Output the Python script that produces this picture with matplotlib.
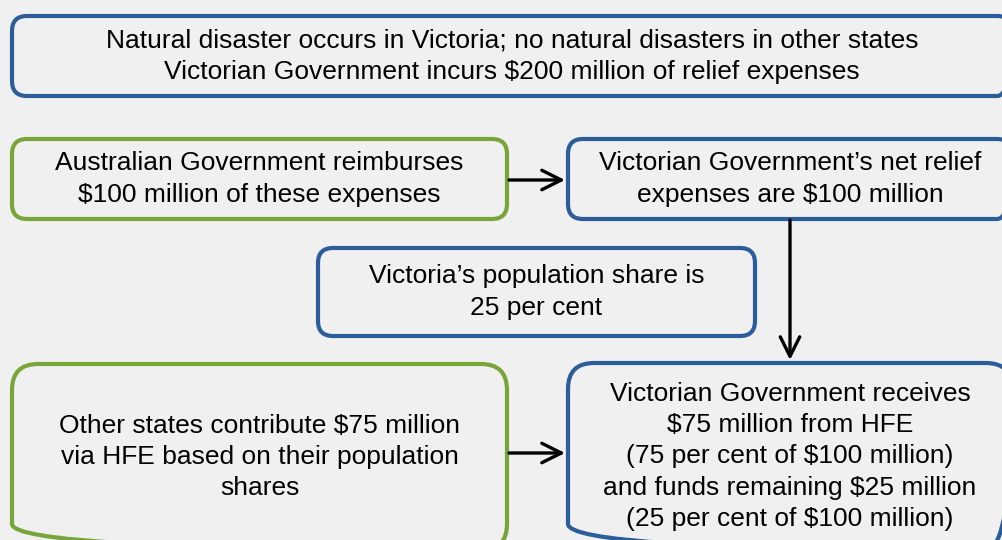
import matplotlib
matplotlib.use('Agg')
import matplotlib.pyplot as plt
from matplotlib.patches import FancyBboxPatch

BLUE = '#2C5D9B'
GREEN = '#78A53A'
BG = '#F0F0F0'

# box texts
top_text = ['Natural disaster occurs in Victoria; no natural disasters in other states',
            'Victorian Government incurs $200 million of relief expenses']
reimburse_text = ['Australian Government reimburses', '$100 million of these expenses']
net_text = ['Victorian Government\u2019s net relief', 'expenses are $100 million']
share_text = ['Victoria\u2019s population share is', '25 per cent']
others_text = ['Other states contribute $75 million',
               'via HFE based on their population', 'shares']
receive_text = ['Victorian Government receives', '$75 million from HFE',
                '(75 per cent of $100 million)', 'and funds remaining $25 million',
                '(25 per cent of $100 million)']

plt.rcParams['font.family'] = ['Liberation Sans', 'DejaVu Sans']

fig = plt.figure(figsize=(10.03, 5.40), dpi=100)
fig.patch.set_facecolor(BG)
ax = fig.add_axes([0, 0, 1, 1])
ax.set_facecolor(BG)
ax.set_xlim(0, 1003)
ax.set_ylim(540, 0)
ax.axis('off')


def box(x0, y0, x1, y1, color, lines, r=15):
    p = FancyBboxPatch((x0, y0), x1 - x0, y1 - y0,
                       boxstyle='round,pad=0,rounding_size=%d' % r,
                       fc='none', ec=color, lw=3.0, clip_on=True)
    ax.add_patch(p)
    ax.text((x0 + x1) / 2, (y0 + y1) / 2, '\n'.join(lines),
            ha='center', va='center', fontsize=19, color='black',
            linespacing=1.38)


def arrow(x0, y0, x1, y1):
    ax.annotate('', xy=(x1, y1), xytext=(x0, y0),
                arrowprops=dict(arrowstyle='->,head_length=1.4,head_width=0.7',
                                lw=2.4, color='black', shrinkA=0, shrinkB=0))


box(12, 16, 1012, 96, BLUE, top_text)
box(12, 139, 507, 219, GREEN, reimburse_text)
box(568, 139, 1012, 219, BLUE, net_text)
box(318, 248, 755, 336, BLUE, share_text)
box(12, 364, 507, 550, GREEN, others_text, r=26)
box(568, 363, 1012, 550, BLUE, receive_text, r=26)

arrow(509, 180, 565, 180)
arrow(509, 453, 565, 453)
arrow(790, 220, 790, 360)

plt.savefig('out.png', dpi=100, facecolor=BG)
